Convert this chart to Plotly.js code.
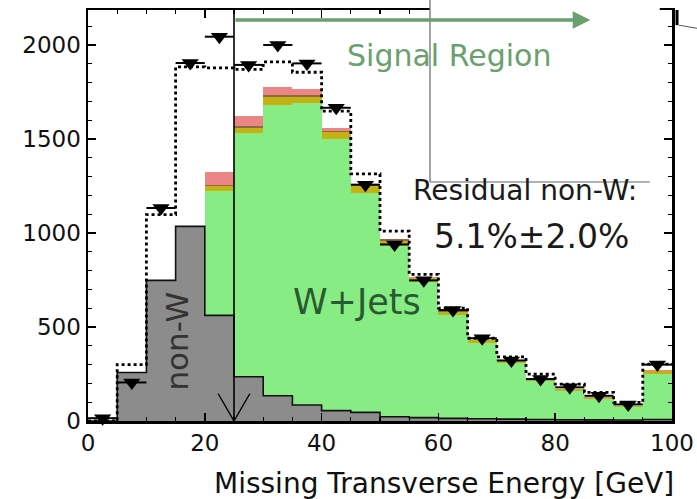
<!DOCTYPE html>
<html>
<head>
<meta charset="utf-8">
<script src="https://cdn.plot.ly/plotly-3.0.1.min.js"></script>
<style>
  html, body { margin: 0; padding: 0; background: #ffffff; }
  #chart { width: 697px; height: 499px; }
</style>
</head>
<body>
<div id="chart"></div>
<script>
// ---- data (5 GeV bins, 0-100 GeV) ----
const binCenters = [2.5, 7.5, 12.5, 17.5, 22.5, 27.5, 32.5, 37.5, 42.5, 47.5,
                    52.5, 57.5, 62.5, 67.5, 72.5, 77.5, 82.5, 87.5, 92.5, 97.5];
const binHalfWidth = 2.5;
const nonW      = [0, 258, 748, 1035, 562, 235, 134, 85, 55, 46, 23, 18, 14, 12, 10, 8, 7, 6, 5, 8];
const wJets     = [0, 0, 0, 0, 660, 1297, 1548, 1605, 1445, 1169, 907, 719, 548, 402, 298, 206, 154, 111, 68, 241];
const bkgYellow = [0, 0, 0, 0, 28, 28, 40, 35, 35, 35, 30, 22, 18, 15, 12, 10, 8, 7, 6, 15];
const bkgBrown  = [0, 0, 0, 0, 6, 8, 12, 10, 10, 6, 6, 3, 3, 2, 2, 2, 1, 1, 1, 3];
const bkgPink   = [0, 0, 0, 0, 70, 52, 45, 30, 15, 5, 3, 2, 2, 1, 1, 1, 1, 1, 1, 2];
const mcTotal   = [0, 300, 1098, 1883, 1878, 1870, 1910, 1855, 1648, 1314, 1010, 780, 600, 440, 341, 249, 196, 152, 99, 302];
const dataCounts= [15, 205, 1133, 1904, 2044, 1894, 2000, 1902, 1666, 1257, 939, 748, 590, 440, 322, 223, 179, 134, 88, 300];

const xTickVals = [0, 20, 40, 60, 80, 100];
const yTickVals = [0, 500, 1000, 1500, 2000];
const cutValue = 25;
const signalEnd = 86;

// step-line helpers built from the bin arrays
const edges = binCenters.map(c => c - binHalfWidth).concat([binCenters[binCenters.length - 1] + binHalfWidth]);
const stepY = arr => arr.concat([arr[arr.length - 1]]);

function bar(name, vals, color) {
  return { type: 'bar', name: name, x: binCenters, y: vals, width: 2 * binHalfWidth,
           marker: { color: color, line: { width: 0 } }, hoverinfo: 'skip' };
}

const traces = [
  bar('non-W', nonW, '#8c8c8c'),
  bar('W+Jets', wJets, '#88ec84'),
  bar('bkg 1', bkgYellow, '#c2b214'),
  bar('bkg 2', bkgBrown, '#8c6a44'),
  bar('bkg 3', bkgPink, '#ec8686'),
  { type: 'scatter', mode: 'lines', x: edges, y: stepY(nonW),
    line: { shape: 'hv', color: '#111111', width: 1.6 }, hoverinfo: 'skip' },
  { type: 'scatter', mode: 'lines', x: edges, y: stepY(mcTotal),
    line: { shape: 'hv', color: '#000000', width: 2.8, dash: 'dot' }, hoverinfo: 'skip' },
  { type: 'scatter', mode: 'markers', x: binCenters, y: dataCounts,
    marker: { symbol: 'triangle-down', size: 15, color: '#000000' },
    error_x: { type: 'data', array: binCenters.map(() => binHalfWidth), visible: true,
               color: '#000000', thickness: 2, width: 0 },
    cliponaxis: false, hoverinfo: 'skip' }
];

const axisFont = { family: 'DejaVu Sans, Liberation Sans, sans-serif', size: 23, color: '#111111' };
const txt = (x, y, text, size, color, extra) => Object.assign({
  xref: 'paper', yref: 'paper', x: x, y: y, text: text, showarrow: false,
  xanchor: 'center', yanchor: 'middle',
  font: { family: 'DejaVu Sans, sans-serif', size: size, color: color }
}, extra || {});

const layout = {
  width: 697, height: 499,
  margin: { l: 88, r: 25, t: 10, b: 78 },
  paper_bgcolor: '#ffffff', plot_bgcolor: '#ffffff',
  showlegend: false,
  barmode: 'stack', bargap: 0,
  xaxis: {
    range: [0, 100], tickvals: xTickVals, ticktext: xTickVals.map(String),
    ticks: 'inside', ticklen: 8, tickwidth: 1.5, tickcolor: '#000',
    minor: { dtick: 5, ticks: 'inside', ticklen: 4, tickwidth: 1.2, tickcolor: '#000' },
    showline: true, linecolor: '#000', linewidth: 2.5, mirror: 'allticks',
    showgrid: false, zeroline: false,
    tickfont: axisFont
  },
  yaxis: {
    range: [0, 2186], tickvals: yTickVals, ticktext: yTickVals.map(String),
    ticks: 'inside', ticklen: 8, tickwidth: 1.5, tickcolor: '#000',
    minor: { dtick: 100, ticks: 'inside', ticklen: 4, tickwidth: 1.2, tickcolor: '#000' },
    showline: true, linecolor: '#000', linewidth: 2.5, mirror: 'allticks',
    showgrid: false, zeroline: false,
    tickfont: axisFont
  },
  shapes: [
    // white slide box covering top-right corner
    { type: 'rect', xref: 'paper', yref: 'paper', x0: 0.5856, x1: 0.979, y0: 0.5815, y1: 1.05,
      fillcolor: '#ffffff', line: { width: 0 }, layer: 'above' },
    { type: 'line', xref: 'paper', yref: 'paper', x0: 0.5856, x1: 0.5856, y0: 0.5815, y1: 1.05,
      line: { color: '#666666', width: 1.2 }, layer: 'above' },
    { type: 'line', xref: 'paper', yref: 'paper', x0: 0.5856, x1: 0.962, y0: 0.5815, y1: 0.5815,
      line: { color: '#666666', width: 1.2 }, layer: 'above' },
    // small artifact at top right
    { type: 'line', xref: 'paper', yref: 'paper', x0: 1.0086, x1: 1.0086, y0: 1.0, y1: 0.963,
      line: { color: '#000', width: 3 }, layer: 'above' },
    { type: 'line', xref: 'paper', yref: 'paper', x0: 1.012, x1: 1.045, y0: 0.963, y1: 0.955,
      line: { color: '#555', width: 1 }, layer: 'above' },
    // cut line at 25 GeV
    { type: 'line', xref: 'x', yref: 'paper', x0: cutValue, x1: cutValue, y0: 0, y1: 1,
      line: { color: '#000', width: 1.6 }, layer: 'above' },
    { type: 'line', xref: 'x', yref: 'y', x0: cutValue - 2.7, x1: cutValue, y0: 145, y1: 0,
      line: { color: '#000', width: 1.4 }, layer: 'above' },
    { type: 'line', xref: 'x', yref: 'y', x0: cutValue + 2.7, x1: cutValue, y0: 145, y1: 0,
      line: { color: '#000', width: 1.4 }, layer: 'above' }
  ],
  annotations: [
    { xref: 'x', yref: 'y', x: signalEnd, y: 2133, axref: 'x', ayref: 'y', ax: cutValue, ay: 2133,
      text: '', showarrow: true, arrowhead: 2, arrowsize: 1, arrowwidth: 3.5, arrowcolor: '#6aa06e' },
    txt(0.618, 0.890, 'Signal Region', 30, '#6aa06e'),
    txt(0.748, 0.562, 'Residual non-W:', 28, '#1a1a1a'),
    txt(0.759, 0.448, '5.1%±2.0%', 33, '#1a1a1a'),
    txt(0.461, 0.290, 'W+Jets', 35, '#2a5a32'),
    txt(0.152, 0.195, 'non-W', 31, '#333333', { textangle: -90 }),
    txt(0.610, -0.151, 'Missing Transverse Energy [GeV]', 28, '#111111')
  ]
};

Plotly.newPlot('chart', traces, layout, { displayModeBar: false, staticPlot: true });
</script>
</body>
</html>
